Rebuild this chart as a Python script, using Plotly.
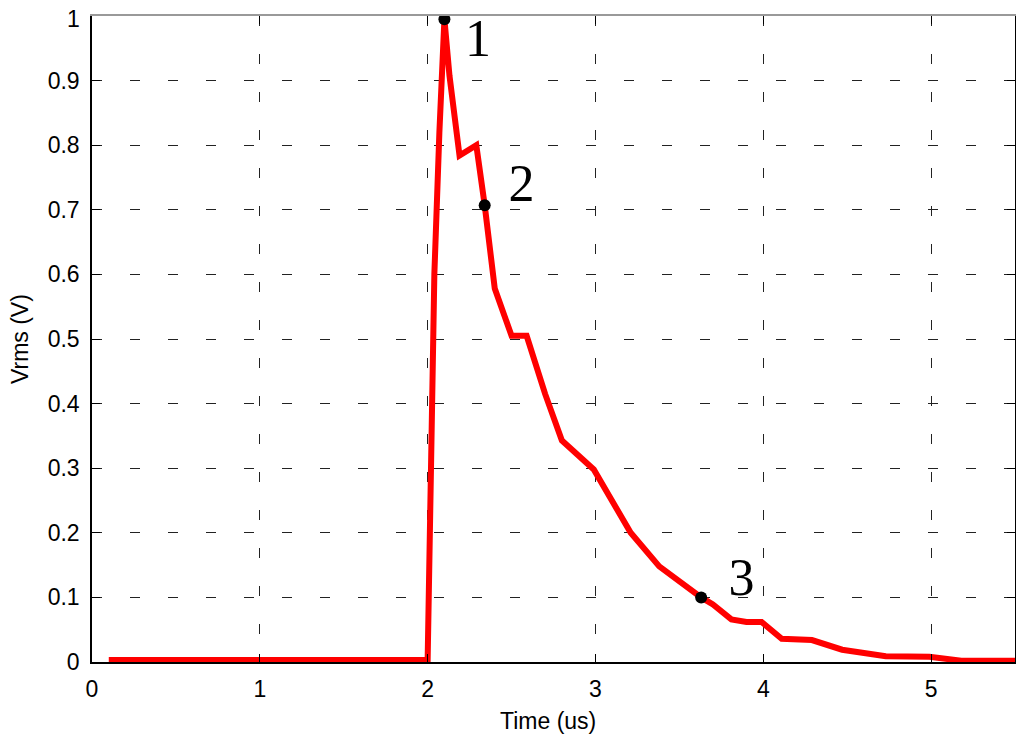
import plotly.graph_objects as go

time_us = [0.10, 1.00, 1.99, 2.00, 2.02, 2.04, 2.07, 2.09, 2.10, 2.13, 2.19, 2.29, 2.34, 2.40,
           2.50, 2.59, 2.70, 2.80, 2.99, 3.21, 3.38, 3.63, 3.70, 3.81, 3.90, 3.99, 4.11,
           4.29, 4.47, 4.73, 4.99, 5.18, 5.50]
vrms = [0.003, 0.003, 0.003, 0.003, 0.30, 0.60, 0.82, 0.97, 0.995, 0.908, 0.784, 0.80, 0.707, 0.578,
        0.505, 0.505, 0.415, 0.343, 0.298, 0.200, 0.148, 0.100, 0.089, 0.066, 0.062, 0.062, 0.036,
        0.034, 0.019, 0.009, 0.008, 0.002, 0.002]

point_t = [2.10, 2.34, 3.63]
point_v = [0.995, 0.707, 0.100]
point_labels = ["1", "2", "3"]
label_t = [2.30, 2.56, 3.87]
label_v = [0.958, 0.733, 0.124]

x_ticks = [0, 1, 2, 3, 4, 5]
y_ticks = [0, 0.1, 0.2, 0.3, 0.4, 0.5, 0.6, 0.7, 0.8, 0.9, 1.0]
y_tick_text = ["0", "0.1", "0.2", "0.3", "0.4", "0.5", "0.6", "0.7", "0.8", "0.9", ""]
top_tick_text = "1"

FONT = "Liberation Sans"

fig = go.Figure()
fig.add_trace(go.Scatter(x=time_us, y=vrms, mode="lines",
                         line=dict(color="#ff0000", width=6), showlegend=False))
fig.add_trace(go.Scatter(x=point_t, y=point_v, mode="markers",
                         marker=dict(color="black", size=12), showlegend=False))
fig.add_trace(go.Scatter(x=label_t, y=label_v, mode="text", text=point_labels,
                         textfont=dict(family="Liberation Serif", size=52, color="black"),
                         showlegend=False))

axis_common = dict(showgrid=True, gridcolor="#222222", griddash="10px,28px", gridwidth=1,
                   showline=True, linecolor="black", linewidth=1.5,
                   ticks="inside", ticklen=8, tickcolor="black", zeroline=False,
                   automargin=False, ticklabeloverflow="allow",
                   tickfont=dict(family=FONT, size=23, color="black"))

fig.update_xaxes(range=[0, 5.5], tickvals=x_ticks, ticklabelstandoff=6, mirror=False,
                 **axis_common)
fig.update_yaxes(range=[0, 1], tickvals=y_ticks, ticktext=y_tick_text, ticklabelstandoff=6,
                 mirror="ticks", **axis_common)

# top frame edge: grey line with black inside ticks
fig.update_layout(xaxis2=dict(overlaying="x", side="top", matches="x", range=[0, 5.5],
                              tickvals=x_ticks, showticklabels=False, showgrid=False,
                              zeroline=False, showline=True, linecolor="#999999", linewidth=2,
                              ticks="inside", ticklen=8, tickcolor="black"))
fig.add_trace(go.Scatter(x=[None], y=[None], xaxis="x2", yaxis="y", showlegend=False,
                         hoverinfo="skip"))

# top y tick label, nudged slightly below the frame edge as in the reference
fig.add_annotation(text=top_tick_text, xref="paper", yref="y", x=0, y=y_ticks[-1],
                   xanchor="right", yanchor="middle", xshift=-10, yshift=-3, showarrow=False,
                   font=dict(family=FONT, size=23, color="black"))

fig.add_annotation(text="Time (us)", xref="paper", yref="paper", x=0.494, y=-0.091,
                   xanchor="center", yanchor="middle", showarrow=False,
                   font=dict(family=FONT, size=23, color="black"))
fig.add_annotation(text="Vrms (V)", xref="paper", yref="paper", x=-0.078, y=0.5,
                   xanchor="center", yanchor="middle", textangle=-90, showarrow=False,
                   font=dict(family=FONT, size=23, color="black"))

fig.update_layout(width=1008, height=728, margin=dict(l=84, r=1, t=8, b=74),
                  plot_bgcolor="white", paper_bgcolor="white")

fig.write_html("out.html")
